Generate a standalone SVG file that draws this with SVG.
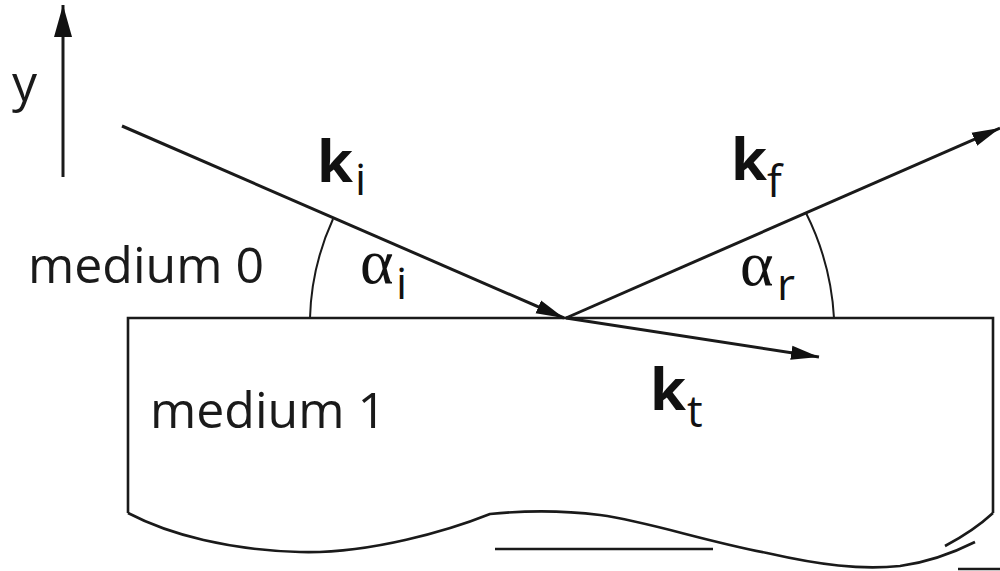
<svg xmlns="http://www.w3.org/2000/svg" width="1000" height="571" viewBox="0 0 1000 571">
<style>
.ln{stroke:#1a1a1a;stroke-width:3;fill:none}
.bd{stroke:#1a1a1a;stroke-width:2.6;fill:none}
.arc{stroke:#1a1a1a;stroke-width:2;fill:none}
.t{font-family:"Open Sans","DejaVu Sans",sans-serif;fill:#1a1a1a}
.kb{font-family:"Open Sans","DejaVu Sans",sans-serif;font-weight:bold;font-size:58px;fill:#111}
.sub{font-family:"Open Sans","DejaVu Sans",sans-serif;font-size:44px;fill:#111}
.gr{font-family:"Liberation Serif","DejaVu Serif",serif;font-size:64px;fill:#111}
</style>
<defs>
<marker id="ah" viewBox="-28 -8 28 16" refX="0" refY="0" markerWidth="28" markerHeight="16" orient="auto" markerUnits="userSpaceOnUse">
<path d="M0,0 L-28,-7 L-28,7 Z" fill="#111"/>
</marker>
<marker id="ahy" viewBox="-32 -10 32 20" refX="0" refY="0" markerWidth="32" markerHeight="20" orient="auto" markerUnits="userSpaceOnUse">
<path d="M0,0 L-32,-9 L-32,9 Z" fill="#111"/>
</marker>
</defs>
<g id="medium1">
<path class="bd" d="M128,513 L128,318 L993,318 L993,513"/>
<path class="bd" d="M128,513 C170,535 230,550 300,552 C370,554 450,530 490,514 C520,511 560,510 600,515 C650,522 700,540 767,553 C820,565 860,570 900,566 C930,562 955,552 975,542"/>
<path class="bd" d="M993,513 C980,525 962,537 945,546"/>
<path class="bd" d="M495,549 L713,549"/>
<path class="bd" d="M958,569 L1000,569"/>
<text class="t" x="150" y="428" font-size="50">medium 1</text>
</g>
<g id="medium0">
<text class="t" x="28" y="283" font-size="50">medium 0</text>
</g>
<g id="yaxis">
<text class="t" x="12" y="101" font-size="50">y</text>
</g>
<g id="connectors">
<line class="ln" x1="63" y1="177" x2="63" y2="5" marker-end="url(#ahy)"/>
<line class="ln" x1="122" y1="126" x2="564" y2="318" marker-end="url(#ah)"/>
<line class="ln" x1="566" y1="318" x2="1000" y2="128" marker-end="url(#ah)"/>
<line class="ln" x1="566" y1="318" x2="819" y2="357" marker-end="url(#ah)"/>
<path class="arc" d="M310,318 A255,255 0 0 1 333,219"/>
<path class="arc" d="M834,318 A268,268 0 0 0 806,213"/>
</g>
<g id="label-ki">
<text class="kb" x="317" y="182">k</text>
<text class="sub" x="355" y="195">i</text>
</g>
<g id="label-kf">
<text class="kb" x="731" y="180">k</text>
<text class="sub" x="767" y="197">f</text>
</g>
<g id="label-kt">
<text class="kb" x="650" y="410">k</text>
<text class="sub" x="687" y="427">t</text>
</g>
<g id="label-ai">
<text class="gr" x="360" y="283">α</text>
<text class="sub" x="396" y="299" font-size="40">i</text>
</g>
<g id="label-ar">
<text class="gr" x="740" y="285">α</text>
<text class="sub" x="777" y="300" font-size="40">r</text>
</g>
</svg>
